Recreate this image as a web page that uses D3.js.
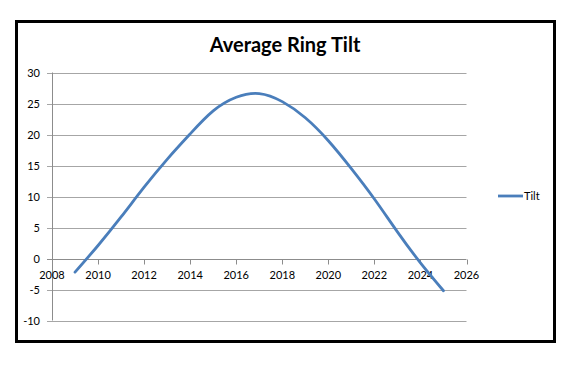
<!DOCTYPE html>
<html>
<head>
<meta charset="utf-8">
<style>
  body { margin: 0; background: #fff; }
  svg { display: block; }
</style>
</head>
<body>
<svg width="580" height="374"></svg>
<script src="https://d3js.org/d3.v7.min.js"></script>
<script>

  var years = [2009, 2010, 2011, 2012, 2013, 2014, 2015, 2016, 2017,
               2018, 2019, 2020, 2021, 2022, 2023, 2024, 2025];
  var tilt = [-2.2, 2.1, 6.7, 11.5, 16.0, 20.1, 23.8, 26.0, 26.6,
              25.3, 22.7, 19.0, 14.5, 9.6, 4.3, -0.7, -5.2];
  var xTicks = [2008, 2010, 2012, 2014, 2016, 2018, 2020, 2022, 2024, 2026];
  var yTicks = [-10, -5, 0, 5, 10, 15, 20, 25, 30];
  var seriesName = "Tilt";
  var title = "Average Ring Tilt";

  var font = "Lato, 'Open Sans', sans-serif";

  var svg = d3.select("svg");

  // chart frame
  svg.append("rect")
    .attr("x", 16.5).attr("y", 21.5)
    .attr("width", 538).attr("height", 320)
    .attr("fill", "#fff")
    .attr("stroke", "#000")
    .attr("stroke-width", 3);

  var x = d3.scaleLinear().domain([2008, 2026]).range([52, 466.5]);
  var y = d3.scaleLinear().domain([-10, 30]).range([320.5, 72.5]);

  // gridlines
  svg.append("g").selectAll("line")
    .data(yTicks)
    .enter().append("line")
    .attr("x1", 47).attr("x2", x(2026))
    .attr("y1", function (d) { return Math.round(y(d)) + 0.5; })
    .attr("y2", function (d) { return Math.round(y(d)) + 0.5; })
    .attr("stroke", function (d) { return d === 0 ? "#8c8c8c" : "#a6a6a6"; })
    .attr("stroke-width", 1);

  // y axis line
  svg.append("line")
    .attr("x1", 52.5).attr("x2", 52.5)
    .attr("y1", y(30)).attr("y2", y(-10))
    .attr("stroke", "#8c8c8c");

  // y labels
  svg.append("g").selectAll("text")
    .data(yTicks)
    .enter().append("text")
    .attr("x", 40)
    .attr("y", function (d) { return y(d) + 4; })
    .attr("text-anchor", "end")
    .attr("font-family", font)
    .attr("font-size", 11)
    .attr("fill", "#000")
    .text(function (d) { return d; });

  // x axis ticks on the zero line
  var zeroY = Math.round(y(0)) + 0.5;
  svg.append("g").selectAll("line")
    .data(xTicks)
    .enter().append("line")
    .attr("x1", function (d) { return Math.round(x(d)) + 0.5; })
    .attr("x2", function (d) { return Math.round(x(d)) + 0.5; })
    .attr("y1", zeroY).attr("y2", zeroY + 5)
    .attr("stroke", "#8c8c8c");

  svg.append("g").selectAll("text")
    .data(xTicks)
    .enter().append("text")
    .attr("x", function (d) { return x(d); })
    .attr("y", zeroY + 19)
    .attr("text-anchor", "middle")
    .attr("font-family", font)
    .attr("font-size", 11)
    .attr("fill", "#000")
    .text(function (d) { return d; });

  // the series
  var line = d3.line()
    .x(function (d, i) { return x(years[i]); })
    .y(function (d) { return y(d); })
    .curve(d3.curveNatural);

  svg.append("path")
    .datum(tilt)
    .attr("fill", "none")
    .attr("stroke", "#4a7ebb")
    .attr("stroke-width", 2.8)
    .attr("stroke-linecap", "round")
    .attr("d", line);

  // title
  svg.append("text")
    .attr("x", 285)
    .attr("y", 52)
    .attr("text-anchor", "middle")
    .attr("font-family", font)
    .attr("font-weight", "bold")
    .attr("font-size", 20)
    .attr("fill", "#000")
    .text(title);

  // legend
  svg.append("line")
    .attr("x1", 498).attr("x2", 523)
    .attr("y1", 196).attr("y2", 196)
    .attr("stroke", "#4a7ebb")
    .attr("stroke-width", 2.8);

  svg.append("text")
    .attr("x", 524)
    .attr("y", 200)
    .attr("font-family", font)
    .attr("font-size", 11)
    .attr("fill", "#000")
    .text(seriesName);

</script>
</body>
</html>
